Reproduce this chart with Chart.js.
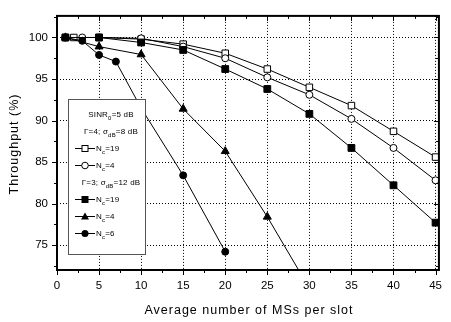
<!DOCTYPE html>
<html><head><meta charset="utf-8">
<script src="https://cdn.jsdelivr.net/npm/chart.js@4.4.0/dist/chart.umd.min.js"></script>
<style>
html,body{margin:0;padding:0;background:#fff;}
#wrap{position:relative;width:451px;height:322px;overflow:hidden;}
#legend{position:absolute;left:68px;top:99px;width:78px;height:156px;border:1.5px solid #555;background:#fff;box-sizing:border-box;font-family:"Liberation Sans",Arial,sans-serif;font-size:8px;color:#000;letter-spacing:0.2px;}
#legend .row{position:absolute;left:0;width:100%;height:12px;line-height:12px;white-space:nowrap;}
#legend .c{text-align:center;padding-left:8px;box-sizing:border-box;}
#legend .m{left:6px;}
#legend svg{vertical-align:middle;margin-right:1px;}
#legend sub{font-size:6px;vertical-align:-3px;line-height:0;}
</style></head>
<body>
<div id="wrap">
<canvas id="c" width="451" height="322"></canvas>
<div id="legend">
  <div class="row c" style="top:9px">SINR<sub>0</sub>=5 dB</div>
  <div class="row c" style="top:26px">&Gamma;=4; &sigma;<sub>dB</sub>=8 dB</div>
  <div class="row m" style="top:43px"><svg width="20" height="9"><line x1="0" y1="4.5" x2="20" y2="4.5" stroke="#000"/><rect x="7" y="1.5" width="6" height="6" fill="#fff" stroke="#000"/></svg>N<sub>c</sub>=19</div>
  <div class="row m" style="top:60px"><svg width="20" height="9"><line x1="0" y1="4.5" x2="20" y2="4.5" stroke="#000"/><circle cx="10" cy="4.5" r="3.3" fill="#fff" stroke="#000"/></svg>N<sub>c</sub>=4</div>
  <div class="row c" style="top:77px">&Gamma;=3; &sigma;<sub>dB</sub>=12 dB</div>
  <div class="row m" style="top:94px"><svg width="20" height="9"><line x1="0" y1="4.5" x2="20" y2="4.5" stroke="#000"/><rect x="6.5" y="1" width="7" height="7" fill="#000"/></svg>N<sub>c</sub>=19</div>
  <div class="row m" style="top:111px"><svg width="20" height="9"><line x1="0" y1="4.5" x2="20" y2="4.5" stroke="#000"/><polygon points="10,0.5 14,7.5 6,7.5" fill="#000"/></svg>N<sub>c</sub>=4</div>
  <div class="row m" style="top:128px"><svg width="20" height="9"><line x1="0" y1="4.5" x2="20" y2="4.5" stroke="#000"/><circle cx="10" cy="4.5" r="3.5" fill="#000"/></svg>N<sub>c</sub>=6</div>
</div>
</div>
<script>
// ---- data ----
const xTicks = [0, 5, 10, 15, 20, 25, 30, 35, 40, 45];
const yTicks = [75, 80, 85, 90, 95, 100];
const xTitle = 'Average number of MSs per slot';
const yTitle = 'Throughput (%)';

// Γ=4; σdB=8 dB, Nc=19 (open squares)
const xG4N19 = [1, 2, 5, 10, 15, 20, 25, 30, 35, 40, 45];
const yG4N19 = [100, 100, 100, 99.8, 99.2, 98.1, 96.2, 94.0, 91.8, 88.7, 85.6];
// Γ=4; σdB=8 dB, Nc=4 (open circles)
const xG4N4 = [1, 3, 5, 10, 15, 20, 25, 30, 35, 40, 45];
const yG4N4 = [100, 100, 100, 99.9, 98.9, 97.5, 95.2, 93.1, 90.2, 86.7, 82.8];
// Γ=3; σdB=12 dB, Nc=19 (filled squares)
const xG3N19 = [1, 5, 10, 15, 20, 25, 30, 35, 40, 45];
const yG3N19 = [100, 100, 99.4, 98.5, 96.2, 93.8, 90.8, 86.7, 82.2, 77.7];
// Γ=3; σdB=12 dB, Nc=4 (filled triangles)
const xG3N4 = [1, 5, 10, 15, 20, 25, 30];
const yG3N4 = [100, 98.9, 97.95, 91.4, 86.3, 78.4, 69.8];
// Γ=3; σdB=12 dB, Nc=6 (filled circles)
const xG3N6 = [1, 3, 5, 7, 10, 15, 20];
const yG3N6 = [100, 99.6, 97.9, 97.1, 91.5, 83.4, 74.2];

const pts = (xs, ys) => xs.map((v, i) => ({x: v, y: ys[i]}));

function ds(label, xs, ys, style, fill, r) {
  return {
    label, data: pts(xs, ys), borderColor: '#000', borderWidth: 1,
    pointStyle: style, pointRadius: r, pointBorderWidth: 1,
    pointBackgroundColor: fill, pointBorderColor: '#000',
    pointHoverRadius: r, fill: false, tension: 0
  };
}

const FONT = '"Liberation Sans", Arial, sans-serif';

const framePlugin = {
  id: 'frame',
  afterDatasetsDraw(chart) {
    const {ctx, chartArea: a, scales: {x, y}} = chart;
    ctx.save();
    ctx.strokeStyle = '#000';
    ctx.lineWidth = 1;
    ctx.beginPath();
    for (let v = x.min; v <= x.max + 1e-9; v += 2.5) {
      const px = Math.round(x.getPixelForValue(v)) + 0.5;
      const L = (Math.abs(v % 5) < 1e-9) ? 5 : 3;
      ctx.moveTo(px, a.bottom); ctx.lineTo(px, a.bottom + L);
      ctx.moveTo(px, a.top); ctx.lineTo(px, a.top + L);
    }
    for (let v = 72.5; v <= y.max + 1e-9; v += 2.5) {
      const py = Math.round(y.getPixelForValue(v)) + 0.5;
      const L = (Math.abs(v % 5) < 1e-9) ? 5 : 3;
      ctx.moveTo(a.left - L, py); ctx.lineTo(a.left, py);
      ctx.moveTo(a.right - L, py); ctx.lineTo(a.right, py);
    }
    ctx.stroke();
    ctx.lineWidth = 2;
    ctx.strokeRect(a.left, a.top, a.right - a.left, a.bottom - a.top);
    ctx.restore();
  },
  afterDraw(chart) {
    const {ctx, chartArea: a} = chart;
    ctx.save();
    ctx.fillStyle = '#000';
    ctx.font = '12.5px ' + FONT;
    ctx.letterSpacing = '1px';
    ctx.textAlign = 'center';
    ctx.textBaseline = 'middle';
    ctx.fillText(xTitle, (a.left + a.right) / 2 + 1, 311);
    ctx.translate(15, 144);
    ctx.rotate(-Math.PI / 2);
    ctx.fillText(yTitle, 0, 0);
    ctx.restore();
  }
};

new Chart(document.getElementById('c'), {
  type: 'line',
  data: {
    datasets: [
      ds('Γ=3 Nc=6', xG3N6, yG3N6, 'circle', '#000', 3.5),
      ds('Γ=3 Nc=4', xG3N4, yG3N4, 'triangle', '#000', 4.6),
      ds('Γ=3 Nc=19', xG3N19, yG3N19, 'rect', '#000', 4.8),
      ds('Γ=4 Nc=4', xG4N4, yG4N4, 'circle', '#fff', 3.5),
      ds('Γ=4 Nc=19', xG4N19, yG4N19, 'rect', '#fff', 4.6)
    ]
  },
  options: {
    responsive: false,
    animation: false,
    events: [],
    layout: {padding: {left: 0, right: 5, top: 5, bottom: 0}},
    plugins: {legend: {display: false}, tooltip: {enabled: false}},
    scales: {
      x: {
        type: 'linear', min: 0, max: 45.4,
        afterFit: s => { s.height = 52; },
        afterBuildTicks: s => { s.ticks = xTicks.map(v => ({value: v})); },
        ticks: {stepSize: 5, includeBounds: false, padding: 9, color: '#000', font: {family: FONT, size: 11.5}, maxRotation: 0},
        grid: {drawTicks: false, lineWidth: 1, color: c => (c.tick && c.tick.value === 0) ? 'rgba(0,0,0,0)' : '#000'},
        border: {display: false, dash: [1, 2]},
        title: {display: false, text: xTitle}
      },
      y: {
        type: 'linear', min: 72, max: 102.6,
        afterFit: s => { s.width = 57; },
        afterBuildTicks: s => { s.ticks = yTicks.map(v => ({value: v})); },
        ticks: {stepSize: 5, includeBounds: false, padding: 9, color: '#000', font: {family: FONT, size: 11.5}},
        grid: {drawTicks: false, lineWidth: 1, color: '#000'},
        border: {display: false, dash: [1, 2]},
        title: {display: false, text: yTitle}
      }
    }
  },
  plugins: [framePlugin]
});
</script>
</body></html>
